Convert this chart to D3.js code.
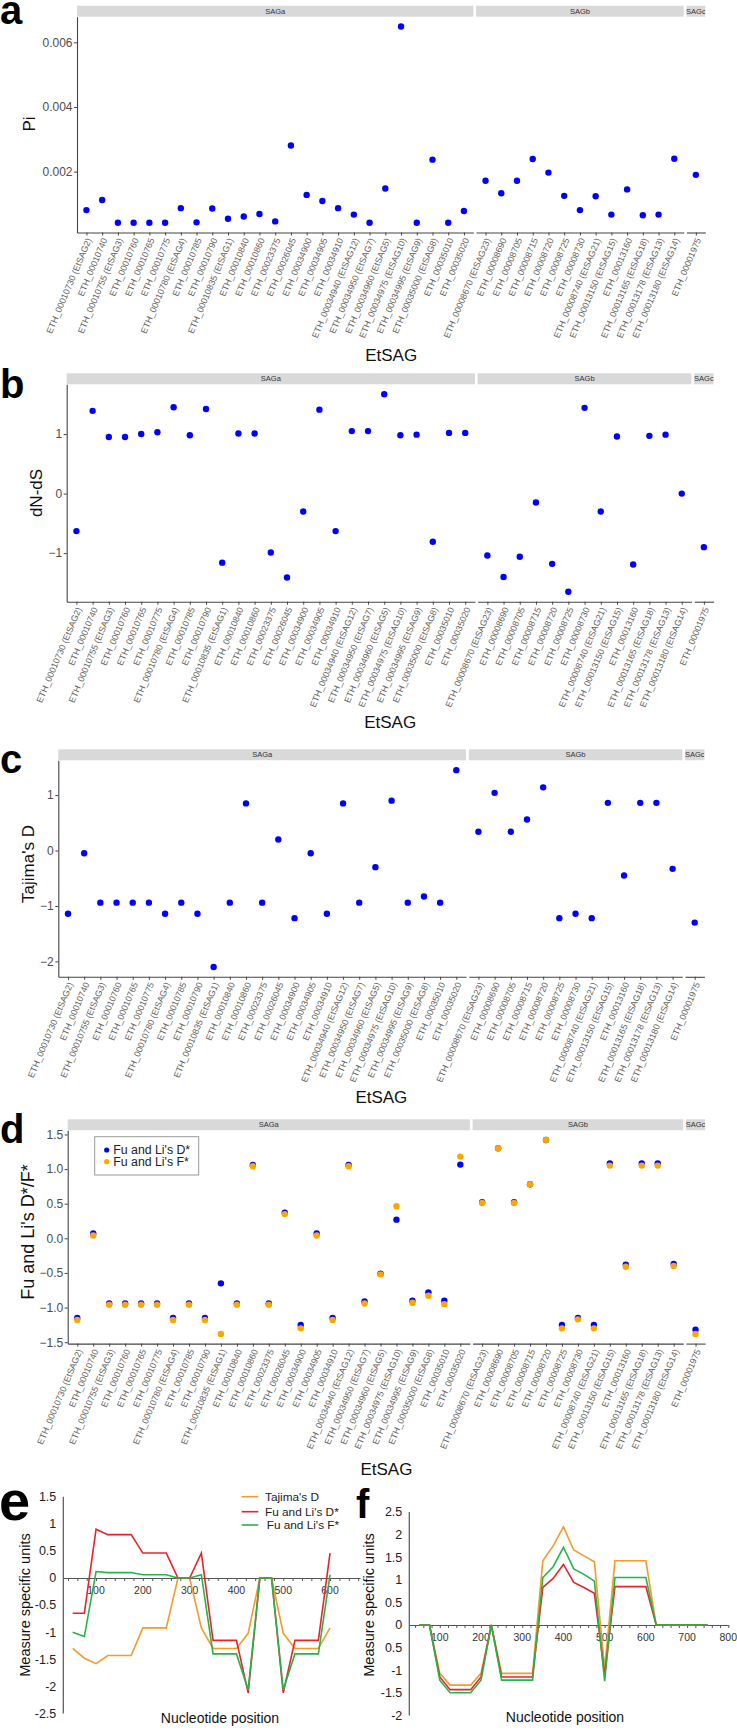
<!DOCTYPE html>
<html><head><meta charset="utf-8">
<script src="https://cdn.jsdelivr.net/npm/d3@7"></script>
<style>
body{margin:0;background:#fff}
svg{display:block}
text{font-family:"Liberation Sans",Arial,Helvetica,sans-serif}
</style>
</head><body>
<svg id="c" width="737" height="1731"></svg>
<script>
// ---------------- DATA ----------------
const facetNames = ["SAGa", "SAGb", "SAGc"];
const sagaCats = ["ETH_00010730 (EtSAG2)", "ETH_00010740", "ETH_00010755 (EtSAG3)", "ETH_00010760", "ETH_00010765",
  "ETH_00010775", "ETH_00010780 (EtSAG4)", "ETH_00010785", "ETH_00010790", "ETH_00010835 (EtSAG1)", "ETH_00010840",
  "ETH_00010860", "ETH_00023375", "ETH_00026045", "ETH_00034900", "ETH_00034905", "ETH_00034910",
  "ETH_00034940 (EtSAG12)", "ETH_00034950 (EtSAG7)", "ETH_00034960 (EtSAG5)", "ETH_00034975 (EtSAG10)",
  "ETH_00034995 (EtSAG9)", "ETH_00035000 (EtSAG8)", "ETH_00035010", "ETH_00035020"];
const sagbCats = ["ETH_00008670 (EtSAG23)", "ETH_00008690", "ETH_00008705", "ETH_00008715", "ETH_00008720",
  "ETH_00008725", "ETH_00008730", "ETH_00008740 (EtSAG21)", "ETH_00013150 (EtSAG15)", "ETH_00013160",
  "ETH_00013165 (EtSAG18)", "ETH_00013178 (EtSAG13)", "ETH_00013180 (EtSAG14)"];
const sagcCats = ["ETH_00001975"];

// values in order SAGa (25), SAGb (13), SAGc (1)
const piValues = [0.00081, 0.00112, 0.00042, 0.00042, 0.00042, 0.00042, 0.00087, 0.00043, 0.00086, 0.00054, 0.00061,
  0.00069, 0.00046, 0.00281, 0.00128, 0.00109, 0.00087, 0.00067, 0.00042, 0.00148, 0.00649, 0.00042, 0.00237, 0.00042, 0.00078,
  0.00172, 0.00133, 0.00172, 0.00239, 0.00197, 0.00125, 0.00081, 0.00124, 0.00067, 0.00145, 0.00065, 0.00067, 0.00240,
  0.00190];
const dndsValues = [-0.63, 1.39, 0.95, 0.95, 1.0, 1.03, 1.45, 0.98, 1.42, -1.16, 1.01, 1.01, -0.99, -1.41, -0.30, 1.41,
  -0.63, 1.05, 1.05, 1.67, 0.98, 0.99, -0.81, 1.02, 1.02,
  -1.04, -1.40, -1.06, -0.15, -1.18, -1.65, 1.44, -0.30, 0.96, -1.19, 0.97, 0.99, 0.0,
  -0.90];
const tajimaValues = [-1.14, -0.05, -0.94, -0.94, -0.94, -0.94, -1.14, -0.94, -1.14, -2.10, -0.94, 0.85, -0.94, 0.20,
  -1.22, -0.05, -1.14, 0.85, -0.94, -0.30, 0.90, -0.94, -0.83, -0.94, 1.45,
  0.34, 1.04, 0.34, 0.56, 1.14, -1.22, -1.14, -1.22, 0.86, -0.45, 0.86, 0.86, -0.33,
  -1.30];
const fuLiDValues = [-1.15, 0.07, -0.94, -0.94, -0.94, -0.94, -1.15, -0.94, -1.15, -0.65, -0.94, 1.06, -0.94, 0.37,
  -1.25, 0.07, -1.15, 1.06, -0.91, -0.51, 0.27, -0.90, -0.78, -0.90, 1.065,
  0.52, 1.30, 0.52, 0.78, 1.42, -1.25, -1.15, -1.25, 1.08, -0.38, 1.08, 1.08, -0.37,
  -1.32];
const fuLiFValues = [-1.18, 0.04, -0.96, -0.96, -0.96, -0.96, -1.18, -0.96, -1.18, -1.38, -0.96, 1.04, -0.96, 0.35,
  -1.30, 0.04, -1.18, 1.04, -0.94, -0.52, 0.465, -0.93, -0.83, -0.95, 1.18,
  0.51, 1.30, 0.51, 0.78, 1.42, -1.30, -1.17, -1.30, 1.05, -0.41, 1.05, 1.05, -0.40,
  -1.38];

const piTicks = [0.002, 0.004, 0.006];
const dndsTicks = [-1, 0, 1];
const tajimaTicks = [-2, -1, 0, 1];
const fuLiTicks = [-1.5, -1.0, -0.5, 0.0, 0.5, 1.0, 1.5];

// sliding-window panels
const ePositions = [50, 75, 100, 125, 150, 175, 200, 225, 250, 275, 300, 325, 350, 375, 400, 425, 450, 475, 500, 525, 550, 575, 600];
const eTajima = [-1.30, -1.48, -1.58, -1.43, -1.43, -1.43, -0.92, -0.92, -0.92, 0, 0, -0.92, -1.30, -1.30, -1.30, -1.02, 0, 0, -1.02, -1.30, -1.30, -1.30, -0.92];
const eFuLiD = [-0.65, -0.65, 0.90, 0.80, 0.80, 0.80, 0.46, 0.46, 0.46, 0, 0, 0.46, -1.15, -1.15, -1.15, -2.12, 0, 0, -2.12, -1.15, -1.15, -1.15, 0.46];
const eFuLiF = [-1.00, -1.08, 0.12, 0.10, 0.10, 0.10, 0.06, 0.06, 0.06, 0, 0, 0.06, -1.40, -1.40, -1.40, -2.06, 0, 0, -2.06, -1.40, -1.40, -1.40, 0.06];
const eYTicks = [1.5, 1, 0.5, 0, -0.5, -1, -1.5, -2, -2.5];
const eYTickLabels = ["1.5", "1", "0.5", "0", "-0.5", "-1", "-1.5", "-2", "-2.5"];
const eXTicks = [100, 200, 300, 400, 500, 600];

const fPositions = [50, 75, 100, 125, 150, 175, 200, 225, 250, 275, 300, 325, 350, 375, 400, 425, 450, 475, 500, 525, 550, 575, 600, 625, 650, 675, 700, 725, 750];
const fTajima = [0, 0, -1.07, -1.33, -1.33, -1.33, -1.07, 0, -1.07, -1.07, -1.07, -1.07, 1.42, 1.75, 2.17, 1.66, 1.53, 1.40, -0.96, 1.42, 1.42, 1.42, 1.42, 0, 0, 0, 0, 0, 0];
const fFuLiD = [0, 0, -1.15, -1.43, -1.43, -1.43, -1.15, 0, -1.15, -1.15, -1.15, -1.15, 0.83, 1.03, 1.34, 0.94, 0.83, 0.70, -1.10, 0.85, 0.85, 0.85, 0.85, 0, 0, 0, 0, 0, 0];
const fFuLiF = [0, 0, -1.22, -1.50, -1.50, -1.50, -1.22, 0, -1.22, -1.22, -1.22, -1.22, 1.05, 1.29, 1.72, 1.24, 1.12, 0.97, -1.24, 1.05, 1.05, 1.05, 1.05, 0, 0, 0, 0, 0, 0];
const fYTicks = [2.5, 2, 1.5, 1, 0.5, 0, -0.5, -1, -1.5, -2];
const fYTickLabels = ["2.5", "2", "1.5", "1", "0.5", "0", "0.5", "-1", "-1.5", "-2"];
const fXTicks = [100, 200, 300, 400, 500, 600, 700, 800];

const lineSeriesNames = ["Tajima's D", "Fu and Li's D*", "Fu and Li's F*"];
const lineColors = ["#f59a2c", "#e8232a", "#27b34b"];
const dotLegendNames = ["Fu and Li's D*", "Fu and Li's F*"];
const dotColors = ["#0000ff", "#ffa500"];

// ---------------- DRAWING ----------------
const svg = d3.select("#c");
const FONT = '"Liberation Sans", Arial, Helvetica, sans-serif';
const facetCats = [sagaCats, sagbCats, sagcCats];
const AXIS = "#444";

function splitByFacet(vals) {
  const out = []; let k = 0;
  facetCats.forEach(c => { out.push(vals.slice(k, k + c.length)); k += c.length; });
  return out;
}

function dotPanel(cfg) {
  const g = svg.append("g");
  const all = cfg.series.flatMap(s => s.values);
  const [mn, mx] = d3.extent(all);
  const pad = (mx - mn) * 0.05;
  const y = d3.scaleLinear().domain([mn - pad, mx + pad]).range([cfg.bottom, cfg.top]);
  const gap = 2.7;
  let x0 = cfg.left;
  const split = cfg.series.map(s => splitByFacet(s.values));
  facetNames.forEach((fname, fi) => {
    const cats = facetCats[fi];
    const w = (cats.length + 0.2) * cfg.unit;
    const x = d3.scalePoint().domain(cats).range([x0, x0 + w]).padding(0.6);
    const clipId = "clip-" + cfg.id + "-" + fi;
    g.append("clipPath").attr("id", clipId).append("rect")
      .attr("x", x0).attr("y", cfg.top - 11).attr("width", w).attr("height", 11);
    g.append("rect").attr("x", x0).attr("y", cfg.top - 11).attr("width", w).attr("height", 11).attr("fill", "#d9d9d9");
    g.append("text").attr("clip-path", "url(#" + clipId + ")")
      .attr("x", x0 + w / 2).attr("y", cfg.top - 3).attr("text-anchor", "middle")
      .attr("font-size", 7.5).attr("fill", "#333").text(fname);

    const ax = g.append("g").attr("transform", "translate(0," + cfg.bottom + ")")
      .call(d3.axisBottom(x).tickSize(3).tickSizeOuter(0));
    ax.attr("font-family", FONT);
    ax.select(".domain").attr("stroke", AXIS).attr("stroke-width", 1.1);
    ax.selectAll(".tick line").attr("stroke", AXIS);
    ax.selectAll(".tick text")
      .attr("x", 0).attr("y", 0).attr("dy", "0.35em")
      .attr("transform", "translate(2,6) rotate(-67)")
      .attr("text-anchor", "end").attr("font-size", 8.9).attr("fill", "#5e5e5e");

    if (fi === 0) {
      const ay = g.append("g").attr("transform", "translate(" + cfg.left + ",0)")
        .call(d3.axisLeft(y).tickValues(cfg.ticks).tickFormat(cfg.fmt).tickSize(3).tickSizeOuter(0));
      ay.attr("font-family", FONT);
      ay.select(".domain").attr("stroke", AXIS).attr("stroke-width", 1.1);
      ay.selectAll(".tick line").attr("stroke", AXIS);
      ay.selectAll(".tick text").attr("font-size", 12).attr("fill", "#4d4d4d").attr("x", -4.5);
    }

    cfg.series.forEach((s, si) => {
      g.append("g").selectAll("circle").data(split[si][fi]).join("circle")
        .attr("cx", (d, i) => x(cats[i])).attr("cy", d => y(d))
        .attr("r", 3.2).attr("fill", s.color);
    });
    x0 += w + gap;
  });
  const right = x0 - gap;
  g.append("text").attr("x", (cfg.left + right) / 2).attr("y", cfg.xTitleY)
    .attr("text-anchor", "middle").attr("font-size", 17).attr("fill", "#111").text("EtSAG");
  g.append("text").attr("transform", "translate(" + cfg.yTitleX + "," + cfg.yTitleY + ") rotate(-90)")
    .attr("text-anchor", "middle").attr("font-size", cfg.yTitleSize || 17).attr("fill", "#111").text(cfg.yTitle);
  g.append("text").attr("x", 0).attr("y", cfg.letterY).attr("font-size", 40).attr("font-weight", "bold")
    .attr("fill", "#000").text(cfg.letter);
  return { g, y, left: cfg.left };
}

dotPanel({ id: "a", left: 77, unit: 15.73, top: 16.7, bottom: 232.5,
  series: [{ values: piValues, color: dotColors[0] }], ticks: piTicks, fmt: d3.format(".3f"),
  xTitleY: 361, yTitle: "Pi", yTitleX: 35, yTitleY: 124, letter: "a", letterY: 24 });

dotPanel({ id: "b", left: 66.7, unit: 16.2, top: 384.3, bottom: 601.7,
  series: [{ values: dndsValues, color: dotColors[0] }], ticks: dndsTicks, fmt: d3.format("d"),
  xTitleY: 728, yTitle: "dN-dS", yTitleX: 42, yTitleY: 493, letter: "b", letterY: 398 });

dotPanel({ id: "c", left: 58.3, unit: 16.18, top: 760.3, bottom: 976.8,
  series: [{ values: tajimaValues, color: dotColors[0] }], ticks: tajimaTicks, fmt: d3.format("d"),
  xTitleY: 1103, yTitle: "Tajima's D", yTitleX: 34, yTitleY: 864, letter: "c", letterY: 773 });

const pd = dotPanel({ id: "d", left: 67.7, unit: 15.96, top: 1130.3, bottom: 1343.6,
  series: [{ values: fuLiDValues, color: dotColors[0] }, { values: fuLiFValues, color: dotColors[1] }],
  ticks: fuLiTicks, fmt: d3.format(".1f"),
  xTitleY: 1475, yTitle: "Fu and Li's D*/F*", yTitleX: 34, yTitleY: 1232, yTitleSize: 18, letter: "d", letterY: 1143 });

// legend for panel d
const lg = pd.g.append("g");
lg.append("rect").attr("x", 94.7).attr("y", 1136.7).attr("width", 104).attr("height", 38.3)
  .attr("fill", "#fff").attr("stroke", "#999").attr("stroke-width", 1);
dotLegendNames.forEach((n, i) => {
  const cy = 1150 + i * 11.7;
  lg.append("circle").attr("cx", 106.7).attr("cy", cy).attr("r", 2.6).attr("fill", dotColors[i]);
  lg.append("text").attr("x", 113.3).attr("y", cy + 4.3).attr("font-size", 12.3).attr("fill", "#222").text(n);
});

function linePanel(cfg) {
  const g = svg.append("g");
  const x = d3.scaleLinear().domain(cfg.xDomain).range(cfg.xRange);
  const y = d3.scaleLinear().domain(cfg.yDomain).range(cfg.yRange);
  const ax0 = cfg.xRange[0];
  g.append("line").attr("x1", ax0).attr("x2", ax0).attr("y1", y(cfg.yDomain[1])).attr("y2", y(cfg.yDomain[0]))
    .attr("stroke", "#555").attr("stroke-width", 1.2);
  // x axis through zero with minor ticks
  const xa = g.append("g").attr("transform", "translate(0," + y(0) + ")")
    .call(d3.axisBottom(x).tickValues(d3.range(40, cfg.xDomain[1] + 1, 20)).tickSize(3).tickSizeOuter(0).tickFormat(""));
  xa.select(".domain").attr("stroke", "#555").attr("stroke-width", 1.2);
  xa.selectAll(".tick line").attr("stroke", "#555");
  g.append("g").selectAll("text").data(cfg.xTicks).join("text")
    .attr("x", d => x(d)).attr("y", y(0) + 16).attr("text-anchor", "middle")
    .attr("font-family", '"Liberation Serif","Times New Roman",serif').attr("font-size", 10.5).attr("fill", "#333")
    .text(d => d);
  g.append("g").selectAll("text").data(cfg.yTicks).join("text")
    .attr("x", ax0 - 7).attr("y", d => y(d)).attr("dy", "0.35em").attr("text-anchor", "end")
    .attr("font-size", 12.5).attr("fill", "#222").text((d, i) => cfg.yTickLabels[i]);
  const line = d3.line().x((d, i) => x(cfg.positions[i])).y(d => y(d));
  cfg.series.forEach((s, i) => {
    g.append("path").attr("d", line(s)).attr("fill", "none").attr("stroke", lineColors[i])
      .attr("stroke-width", 1.6).attr("stroke-linejoin", "miter");
  });
  g.append("text").attr("x", cfg.xTitleX).attr("y", cfg.xTitleY).attr("text-anchor", "middle")
    .attr("font-size", 14).attr("fill", "#111").text("Nucleotide position");
  g.append("text").attr("transform", "translate(" + cfg.yTitleX + "," + cfg.yTitleY + ") rotate(-90)")
    .attr("text-anchor", "middle").attr("font-size", 14.5).attr("fill", "#111").text("Measure specific units");
  g.append("text").attr("x", cfg.letterX).attr("y", cfg.letterY).attr("font-size", cfg.letterSize)
    .attr("font-weight", "bold").attr("fill", "#000").text(cfg.letter);
  return g;
}

const ge = linePanel({ xDomain: [30, 664], xRange: [63.3, 360], yDomain: [-2.5, 1.5], yRange: [1713.5, 1496.7],
  positions: ePositions, series: [eTajima, eFuLiD, eFuLiF], xTicks: eXTicks, yTicks: eYTicks, yTickLabels: eYTickLabels,
  xTitleX: 220, xTitleY: 1723, yTitleX: 30, yTitleY: 1605, letter: "e", letterX: -1, letterY: 1520, letterSize: 56 });

// legend for panel e
lineSeriesNames.forEach((n, i) => {
  const ly = [1496.7, 1511.7, 1525][i];
  ge.append("line").attr("x1", 241.7).attr("x2", 258.3).attr("y1", ly).attr("y2", ly)
    .attr("stroke", lineColors[i]).attr("stroke-width", 1.6);
  ge.append("text").attr("x", i === 2 ? 266.7 : 265).attr("y", ly + 4.2).attr("font-size", 11.8).attr("fill", "#222").text(n);
});

linePanel({ xDomain: [26, 800], xRange: [409.3, 728.3], yDomain: [-2, 2.5], yRange: [1715.4, 1512],
  positions: fPositions, series: [fTajima, fFuLiD, fFuLiF], xTicks: fXTicks, yTicks: fYTicks, yTickLabels: fYTickLabels,
  xTitleX: 565, xTitleY: 1722, yTitleX: 374, yTitleY: 1605, letter: "f", letterX: 356, letterY: 1518, letterSize: 40 });
</script>
</body></html>
